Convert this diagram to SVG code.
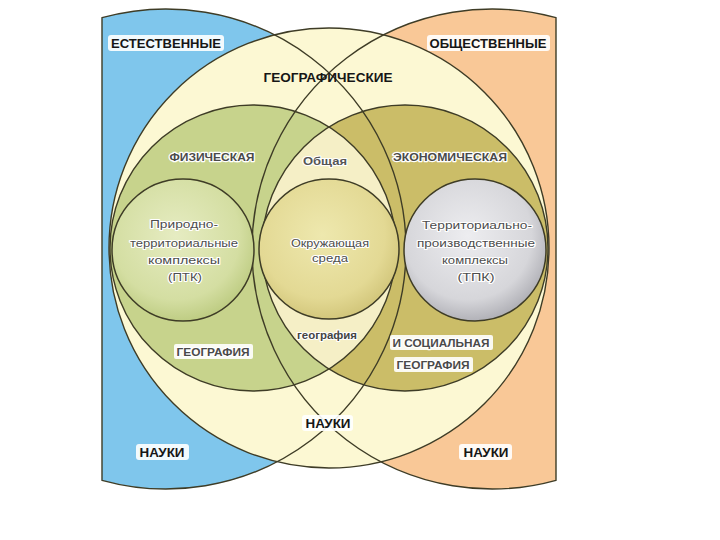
<svg xmlns="http://www.w3.org/2000/svg" width="720" height="540" viewBox="0 0 720 540">
<defs>
<style>
.ln{fill:none;stroke:#3e3c26;stroke-width:1.4}
.lb{font-family:"Liberation Sans",Arial,sans-serif;font-weight:bold;font-size:12px;fill:#161616;text-anchor:middle}
.lg{font-family:"Liberation Sans",Arial,sans-serif;font-weight:bold;font-size:11.5px;fill:#4a4a4a;text-anchor:middle;stroke:#ffffff;stroke-width:2.5;paint-order:stroke;stroke-linejoin:round}
.sm{font-family:"Liberation Sans",Arial,sans-serif;font-size:11.5px;fill:#4d4d4d;text-anchor:middle;stroke:#ffffff;stroke-width:2.2;paint-order:stroke;stroke-linejoin:round}
.bx{fill:#ffffff;opacity:0.9}
</style>
<radialGradient id="gPTK" cx="0.45" cy="0.4" r="0.6">
<stop offset="0" stop-color="#e6ecc2"/><stop offset="0.75" stop-color="#d4dea2"/><stop offset="1" stop-color="#bfcd84"/>
</radialGradient>
<radialGradient id="gOS" cx="0.45" cy="0.4" r="0.6">
<stop offset="0" stop-color="#eee8ae"/><stop offset="0.75" stop-color="#e3d994"/><stop offset="1" stop-color="#d3c77c"/>
</radialGradient>
<radialGradient id="gTPK" cx="0.45" cy="0.4" r="0.6">
<stop offset="0" stop-color="#ededf0"/><stop offset="0.75" stop-color="#d6d6da"/><stop offset="1" stop-color="#b2b2b8"/>
</radialGradient>
<clipPath id="clipL"><circle cx="253" cy="248" r="143"/></clipPath>
</defs>

<g id="natural">
<path d="M102,17.7 A240,240 0 1,1 102,480.3 Z" fill="#7fc6ec"/>
</g>
<g id="social">
<path d="M556,17.7 A240,240 0 1,0 556,480.3 Z" fill="#f9c897"/>
</g>
<g id="geographic">
<circle cx="329" cy="248" r="220" fill="#fcf8d3"/>
</g>
<g id="physical">
<circle cx="253" cy="248" r="143" fill="#c7d38c"/>
</g>
<g id="economic">
<circle cx="405" cy="248" r="143" fill="#cbbd68"/>
</g>
<g id="general">
<circle cx="405" cy="248" r="143" fill="#f5efc6" clip-path="url(#clipL)"/>
</g>

<g id="connectors">
<path class="ln" d="M102,17.7 A240,240 0 1,1 102,480.3 Z" stroke="#2f4f6a"/>
<path class="ln" d="M556,17.7 A240,240 0 1,0 556,480.3 Z" stroke="#5a4128"/>
<circle class="ln" cx="329" cy="248" r="220"/>
<circle class="ln" cx="253" cy="248" r="143"/>
<circle class="ln" cx="405" cy="248" r="143"/>
</g>

<g id="ptk">
<circle cx="183" cy="250" r="71" fill="url(#gPTK)" stroke="#3e3c26" stroke-width="1.5"/>
<text class="sm" x="184" y="228" textLength="68" lengthAdjust="spacingAndGlyphs">Природно-</text>
<text class="sm" x="184" y="247" textLength="108" lengthAdjust="spacingAndGlyphs">территориальные</text>
<text class="sm" x="184" y="264" textLength="72" lengthAdjust="spacingAndGlyphs">комплексы</text>
<text class="sm" x="185" y="281" textLength="34" lengthAdjust="spacingAndGlyphs">(ПТК)</text>
</g>
<g id="environment">
<circle cx="329" cy="249" r="70" fill="url(#gOS)" stroke="#3e3c26" stroke-width="1.5"/>
<text class="sm" x="330" y="247" textLength="78" lengthAdjust="spacingAndGlyphs">Окружающая</text>
<text class="sm" x="330" y="262" textLength="36" lengthAdjust="spacingAndGlyphs">среда</text>
</g>
<g id="tpk">
<circle cx="475" cy="250" r="71" fill="url(#gTPK)" stroke="#3e3c26" stroke-width="1.5"/>
<text class="sm" x="477" y="229" textLength="110" lengthAdjust="spacingAndGlyphs">Территориально-</text>
<text class="sm" x="476" y="247" textLength="118" lengthAdjust="spacingAndGlyphs">производственные</text>
<text class="sm" x="475" y="264" textLength="66" lengthAdjust="spacingAndGlyphs">комплексы</text>
<text class="sm" x="476" y="281" textLength="37" lengthAdjust="spacingAndGlyphs">(ТПК)</text>
</g>

<g id="labels">
<rect class="bx" x="108" y="35" width="116" height="16" rx="3"/>
<text class="lb" x="166" y="47.5" textLength="110" lengthAdjust="spacingAndGlyphs">ЕСТЕСТВЕННЫЕ</text>
<rect class="bx" x="427" y="35" width="123" height="16" rx="3"/>
<text class="lb" x="488" y="47.5" textLength="117" lengthAdjust="spacingAndGlyphs">ОБЩЕСТВЕННЫЕ</text>
<text class="lb" x="328" y="82" textLength="129" lengthAdjust="spacingAndGlyphs">ГЕОГРАФИЧЕСКИЕ</text>
<text class="lg" x="212" y="161" textLength="85" lengthAdjust="spacingAndGlyphs">ФИЗИЧЕСКАЯ</text>
<text class="sm" x="325" y="165" textLength="44" lengthAdjust="spacingAndGlyphs" style="font-weight:bold;fill:#555">Общая</text>
<text class="lg" x="450" y="161" textLength="114" lengthAdjust="spacingAndGlyphs">ЭКОНОМИЧЕСКАЯ</text>
<text class="sm" x="327" y="339" textLength="60" lengthAdjust="spacingAndGlyphs" style="font-weight:bold;fill:#444">география</text>
<rect class="bx" x="174" y="344" width="79" height="15" rx="2"/>
<text class="lg" x="213" y="356" textLength="73" lengthAdjust="spacingAndGlyphs">ГЕОГРАФИЯ</text>
<rect class="bx" x="390" y="335" width="103" height="15" rx="2"/>
<text class="lg" x="441" y="347" textLength="97" lengthAdjust="spacingAndGlyphs">И СОЦИАЛЬНАЯ</text>
<rect class="bx" x="394" y="357" width="79" height="15" rx="2"/>
<text class="lg" x="433" y="369" textLength="73" lengthAdjust="spacingAndGlyphs">ГЕОГРАФИЯ</text>
<rect class="bx" x="302" y="415" width="51" height="16" rx="3"/>
<text class="lb" x="328" y="427.5" textLength="45" lengthAdjust="spacingAndGlyphs">НАУКИ</text>
<rect class="bx" x="136" y="444" width="53" height="16" rx="3"/>
<text class="lb" x="162" y="456.5" textLength="45" lengthAdjust="spacingAndGlyphs">НАУКИ</text>
<rect class="bx" x="459" y="444" width="53" height="16" rx="3"/>
<text class="lb" x="486" y="456.5" textLength="45" lengthAdjust="spacingAndGlyphs">НАУКИ</text>
</g>
</svg>
